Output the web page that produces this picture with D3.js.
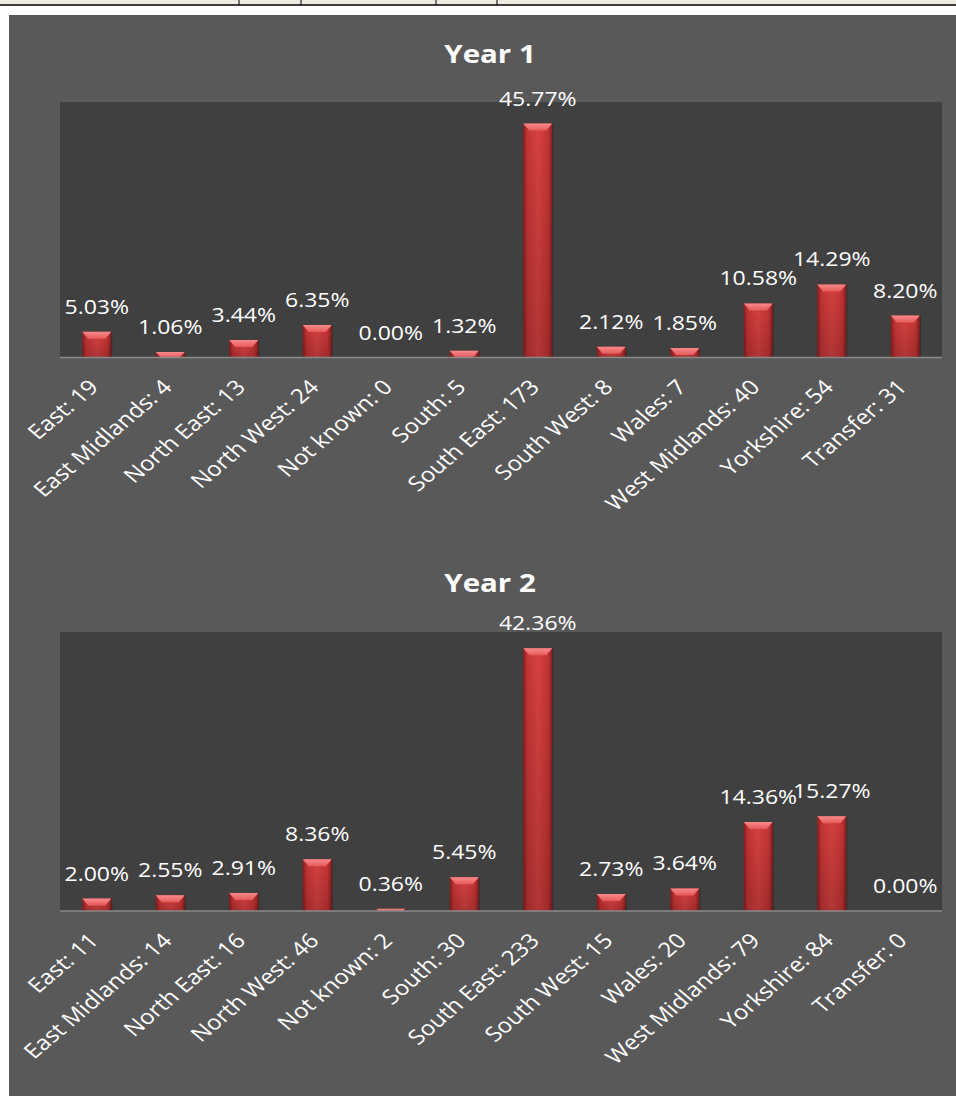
<!DOCTYPE html>
<html>
<head>
<meta charset="utf-8">
<script src="https://cdn.jsdelivr.net/npm/d3@7"></script>
<style>
  html, body { margin: 0; padding: 0; background: #ffffff; }
  svg { display: block; }
</style>
</head>
<body>
<div id="chart"></div>
<script>
// ---- data ----
const regions = ["East", "East Midlands", "North East", "North West", "Not known", "South",
                 "South East", "South West", "Wales", "West Midlands", "Yorkshire", "Transfer"];

const year1Counts = [19, 4, 13, 24, 0, 5, 173, 8, 7, 40, 54, 31];
const year1Pct    = [5.03, 1.06, 3.44, 6.35, 0.00, 1.32, 45.77, 2.12, 1.85, 10.58, 14.29, 8.20];

const year2Counts = [11, 14, 16, 46, 2, 30, 233, 15, 20, 79, 84, 0];
const year2Pct    = [2.00, 2.55, 2.91, 8.36, 0.36, 5.45, 42.36, 2.73, 3.64, 14.36, 15.27, 0.00];

const year1AxisMax = 50;   // percent
const year2AxisMax = 45;

// ---- page ----
const width = 956, height = 1097;
const stretch = 1.18;   // the screenshot is squashed wider than it is tall

const svg = d3.select("#chart").append("svg")
    .attr("width", width)
    .attr("height", height);

const defs = svg.append("defs");

const side = defs.append("linearGradient").attr("id", "barSide")
    .attr("x1", "0%").attr("x2", "100%").attr("y1", "0%").attr("y2", "0%");
side.append("stop").attr("offset", "0%").attr("stop-color", "#8a1d1d");
side.append("stop").attr("offset", "14%").attr("stop-color", "#c23434");
side.append("stop").attr("offset", "50%").attr("stop-color", "#d84141");
side.append("stop").attr("offset", "86%").attr("stop-color", "#c23434");
side.append("stop").attr("offset", "100%").attr("stop-color", "#8a1d1d");

const shade = defs.append("linearGradient").attr("id", "barShade")
    .attr("x1", "0%").attr("x2", "0%").attr("y1", "0%").attr("y2", "100%");
shade.append("stop").attr("offset", "0%").attr("stop-color", "#000").attr("stop-opacity", 0);
shade.append("stop").attr("offset", "100%").attr("stop-color", "#000").attr("stop-opacity", 0.18);

const bevel = defs.append("linearGradient").attr("id", "barTop")
    .attr("x1", "0%").attr("x2", "0%").attr("y1", "0%").attr("y2", "100%");
bevel.append("stop").attr("offset", "0%").attr("stop-color", "#f88a8a");
bevel.append("stop").attr("offset", "100%").attr("stop-color", "#e65a5a");

// the strip of spreadsheet grid above the charts
svg.append("rect").attr("x", 0).attr("y", 0).attr("width", width).attr("height", 5)
    .attr("fill", "#eeebe0");
svg.append("line").attr("x1", 0).attr("x2", width).attr("y1", 5).attr("y2", 5)
    .attr("stroke", "#000").attr("stroke-width", 1.5);
[239, 301, 436, 497].forEach(x => {
  svg.append("line").attr("x1", x).attr("x2", x).attr("y1", 0).attr("y2", 5)
      .attr("stroke", "#000").attr("stroke-width", 1);
});

// chart background
svg.append("rect")
    .attr("x", 9).attr("y", 15)
    .attr("width", width - 9).attr("height", height - 16)
    .attr("fill", "#595959");

function drawYear({ title, titleY, top, bottom, counts, pct, axisMax }) {
  const left = 60, right = 942;

  const x = d3.scaleBand()
      .domain(regions)
      .range([left, right])
      .paddingInner(0.605)
      .paddingOuter(0.3025);

  const y = d3.scaleLinear()
      .domain([0, axisMax])
      .range([bottom, top]);

  const rows = regions.map((r, i) => ({ region: r, count: counts[i], pct: pct[i] }));

  const g = svg.append("g");

  g.append("rect")
      .attr("x", left).attr("y", top)
      .attr("width", right - left).attr("height", bottom - top)
      .attr("fill", "#404040");

  g.append("text")
      .attr("transform", `translate(490,${titleY}) scale(${stretch},1)`)
      .attr("text-anchor", "middle")
      .attr("font-family", "'Open Sans', sans-serif")
      .attr("font-weight", "bold")
      .attr("font-size", 25)
      .attr("fill", "#ffffff")
      .text(title);

  const bars = g.selectAll("g.bar")
    .data(rows)
    .join("g")
      .attr("class", "bar");

  // soft shadow
  bars.append("rect")
      .attr("x", d => x(d.region) + 1)
      .attr("y", d => y(d.pct))
      .attr("width", x.bandwidth())
      .attr("height", d => y(0) - y(d.pct))
      .attr("fill", "#1f1f1f")
      .attr("opacity", 0.45);

  bars.append("rect")
      .attr("x", d => x(d.region))
      .attr("y", d => y(d.pct))
      .attr("width", x.bandwidth())
      .attr("height", d => y(0) - y(d.pct))
      .attr("fill", "url(#barSide)");

  bars.append("rect")
      .attr("x", d => x(d.region))
      .attr("y", d => y(d.pct))
      .attr("width", x.bandwidth())
      .attr("height", d => y(0) - y(d.pct))
      .attr("fill", "url(#barShade)");

  bars.filter(d => d.pct > 0).append("path")
      .attr("fill", "url(#barTop)")
      .attr("d", d => {
        const x0 = x(d.region), x1 = x0 + x.bandwidth();
        const y0 = y(d.pct);
        const h = Math.min(7, y(0) - y0);
        const inset = Math.min(6, h);
        return `M${x0},${y0}L${x1},${y0}L${x1 - inset},${y0 + h}L${x0 + inset},${y0 + h}Z`;
      });

  // axis line
  g.append("line")
      .attr("x1", left).attr("x2", right)
      .attr("y1", y(0)).attr("y2", y(0))
      .attr("stroke", "#8a8a8a")
      .attr("stroke-width", 1.5);

  // value labels
  g.selectAll("text.value")
    .data(rows)
    .join("text")
      .attr("class", "value")
      .attr("transform", d => `translate(${x(d.region) + x.bandwidth() / 2},${y(d.pct) - 18}) scale(${stretch},1)`)
      .attr("text-anchor", "middle")
      .attr("font-family", "'Open Sans', sans-serif")
      .attr("font-size", 19.5)
      .attr("fill", "#ffffff")
      .text(d => d.pct.toFixed(2) + "%");

  // category labels
  g.selectAll("text.cat")
    .data(rows)
    .join("text")
      .attr("class", "cat")
      .attr("transform", d => `translate(${x(d.region) + x.bandwidth() / 2 + 3},${y(0) + 31}) scale(${stretch},1) rotate(-45)`)
      .attr("text-anchor", "end")
      .attr("font-family", "'Open Sans', sans-serif")
      .attr("font-size", 20.5)
      .attr("fill", "#ffffff")
      .text(d => `${d.region}: ${d.count}`);
}

drawYear({ title: "Year 1", titleY: 63,  top: 102, bottom: 357.5, counts: year1Counts, pct: year1Pct, axisMax: year1AxisMax });
drawYear({ title: "Year 2", titleY: 592, top: 632, bottom: 911,   counts: year2Counts, pct: year2Pct, axisMax: year2AxisMax });
</script>
</body>
</html>
